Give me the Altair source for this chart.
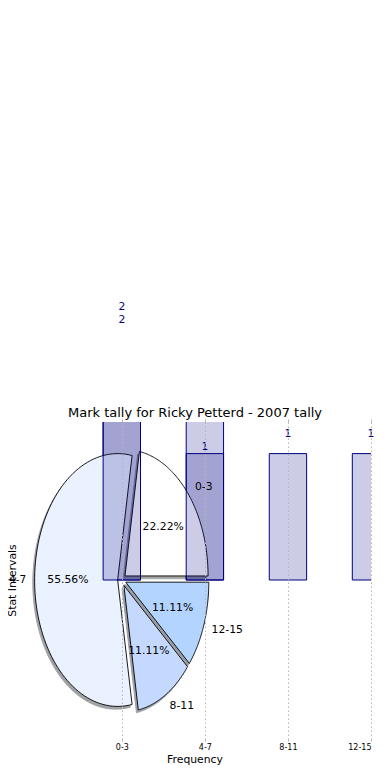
import json
import numpy as np
import pandas as pd
import altair as alt

# ---- data ----
categories = ["0-3", "4-7", "8-11", "12-15"]
tally = [2, 5, 1, 1]                      # pie values (22.22%, 55.56%, 11.11%, 11.11%)
over_values = [2, 5, 1, 1]                # bar series drawn above the pie
under_categories = ["0-3", "4-7"]
under_values = [2, 1]                     # bar series drawn below the pie
slice_colors = ["#ffffff", "#ebf2ff", "#c5d9ff", "#b3d4ff"]
explode = [0.05, 0.05, 0.05, 0.05]
title_text = "Mark tally for Ricky Petterd - 2007 tally"
x_title = "Frequency"
y_title = "Stat Intervals"

NAVY = "#000080"
FONT = "DejaVu Sans"
BAR_W = 0.45
SHADOW_OFF = 0.0217

# ---- build pie geometry (in data units, radius 1) ----
total = float(sum(tally))
wedge_rows, label_rows = [], []
start = 0.0
for cat, v, col, ex in zip(categories, tally, slice_colors, explode):
    span = 360.0 * v / total
    a0, a1 = start, start + span
    mid = np.deg2rad((a0 + a1) / 2)
    cx, cy = ex * np.cos(mid), ex * np.sin(mid)
    pts = [(cx, cy)]
    for a in np.linspace(a0, a1, 90):
        r = np.deg2rad(a)
        pts.append((cx + np.cos(r), cy + np.sin(r)))
    pts.append((cx, cy))
    h = col.lstrip("#")
    rgb = [int(h[i:i + 2], 16) for i in (0, 2, 4)]
    shade = "#" + "".join(f"{int(c * 0.3):02x}" for c in rgb)
    for k, (px, py) in enumerate(pts):
        wedge_rows.append(dict(slice=cat, k=k, x=px, y=py, fill=col, shade=shade))
    label_rows.append(dict(name=cat, pct=f"{100 * v / total:.2f}%",
                           lx=cx + 1.1 * np.cos(mid), ly=cy + 1.1 * np.sin(mid),
                           px=cx + 0.6 * np.cos(mid), py=cy + 0.6 * np.sin(mid)))
    start = a1

wedges = pd.DataFrame(wedge_rows)
shadows = wedges.assign(x=wedges.x - SHADOW_OFF, y=wedges.y - SHADOW_OFF)
labels = pd.DataFrame(label_rows)

over_df = pd.DataFrame({"cat": categories, "idx": list(range(len(categories))), "value": over_values})
under_df = pd.DataFrame({"cat": under_categories,
                         "idx": [categories.index(c) for c in under_categories],
                         "value": under_values})

xs = alt.Scale(domain=[-1.25, 3], nice=False, zero=False)
ys = alt.Scale(domain=[-1.25, 1.25], nice=False, zero=False)

label_expr = json.dumps(categories) + "[datum.value]"

bottom_axis = alt.Axis(values=[0, 1, 2, 3], labelExpr=label_expr, title=x_title,
                       grid=True, gridDash=[1.5, 2.5], gridColor="#b5b5b5", gridWidth=1,
                       domain=False, ticks=True, tickColor="#b5b5b5", tickSize=3,
                       labelFont=FONT, labelFontSize=8, labelColor="black", labelPadding=2,
                       titleFont=FONT, titleFontSize=10.8, titleFontWeight="normal",
                       titleColor="black", titlePadding=2, zindex=1)
top_axis = alt.Axis(orient="top", values=[0, 1, 2, 3], labels=False, ticks=True,
                    tickColor="#b5b5b5", tickSize=3, domain=False, grid=False,
                    title=title_text, titleFont=FONT, titleFontSize=13,
                    titleFontWeight="normal", titleColor="black", titlePadding=-1)
left_axis = alt.Axis(labels=False, ticks=False, domain=False, grid=False, title=y_title,
                     titleFont=FONT, titleFontSize=10.8, titleFontWeight="normal",
                     titleColor="black", titlePadding=1)


def X(field, axis=None):
    if axis is None:
        return alt.X(field, type="quantitative", scale=xs, axis=None)
    return alt.X(field, type="quantitative", scale=xs, axis=axis)


def Y(field, axis=None):
    if axis is None:
        return alt.Y(field, type="quantitative", scale=ys, axis=None)
    return alt.Y(field, type="quantitative", scale=ys, axis=axis)


shadow_layer = alt.Chart(shadows).mark_line(opacity=0.5, strokeWidth=1).encode(
    x=X("x"), y=Y("y"), order="k:Q", detail="slice:N",
    fill=alt.Fill("shade:N", scale=None), stroke=alt.Stroke("shade:N", scale=None))

bar_common = dict(fill=NAVY, fillOpacity=0.2, stroke=NAVY, strokeWidth=1, clip=True)

under_bars = alt.Chart(under_df).mark_bar(**bar_common).transform_calculate(
    x0=f"datum.idx - {BAR_W / 2}", x1=f"datum.idx + {BAR_W / 2}").encode(
    x=X("x0:Q"), x2="x1:Q", y=Y("value:Q"), y2=alt.datum(0))

wedge_layer = alt.Chart(wedges).mark_line(stroke="black", strokeWidth=0.9).encode(
    x=X("x"), y=Y("y"), order="k:Q", detail="slice:N",
    fill=alt.Fill("fill:N", scale=None))

over_bars = alt.Chart(over_df).mark_bar(**bar_common).transform_calculate(
    x0=f"datum.idx - {BAR_W / 2}", x1=f"datum.idx + {BAR_W / 2}").encode(
    x=X("x0:Q", bottom_axis), x2="x1:Q", y=Y("value:Q", left_axis), y2=alt.datum(0))

top_ticks = alt.Chart(over_df).mark_point(opacity=0).encode(
    x=X("idx:Q", top_axis), y=Y("value:Q"))

over_text = alt.Chart(over_df).mark_text(font=FONT, fontSize=10.8, color=NAVY,
                                         baseline="bottom", dy=-15).encode(
    x=X("idx:Q"), y=Y("value:Q"), text="value:Q")

under_text = alt.Chart(under_df).mark_text(font=FONT, fontSize=10.8, color=NAVY,
                                           baseline="bottom", dy=-2).encode(
    x=X("idx:Q"), y=Y("value:Q"), text="value:Q")

name_right = alt.Chart(labels).transform_filter("datum.lx >= 0").mark_text(
    font=FONT, fontSize=10.8, color="black", align="left", baseline="middle").encode(
    x=X("lx:Q"), y=Y("ly:Q"), text="name:N")

name_left = alt.Chart(labels).transform_filter("datum.lx < 0").mark_text(
    font=FONT, fontSize=10.5, color="black", align="right", baseline="middle").encode(
    x=X("lx:Q"), y=Y("ly:Q"), text="name:N")

pct_text = alt.Chart(labels).mark_text(
    font=FONT, fontSize=10.8, color="black", align="center", baseline="middle").encode(
    x=X("px:Q"), y=Y("py:Q"), text="pct:N")

chart = alt.layer(
    shadow_layer, under_bars, wedge_layer, over_bars, top_ticks,
    over_text, under_text, name_right, name_left, pct_text
).resolve_axis(x="independent", y="independent").properties(
    width=353, height=316,
    autosize=alt.AutoSizeParams(type="none"),
    padding={"left": 10, "top": 414, "right": 11, "bottom": 32},
).configure_view(stroke=None)

chart.save("out.html", embed_options={"renderer": "svg", "actions": False})
